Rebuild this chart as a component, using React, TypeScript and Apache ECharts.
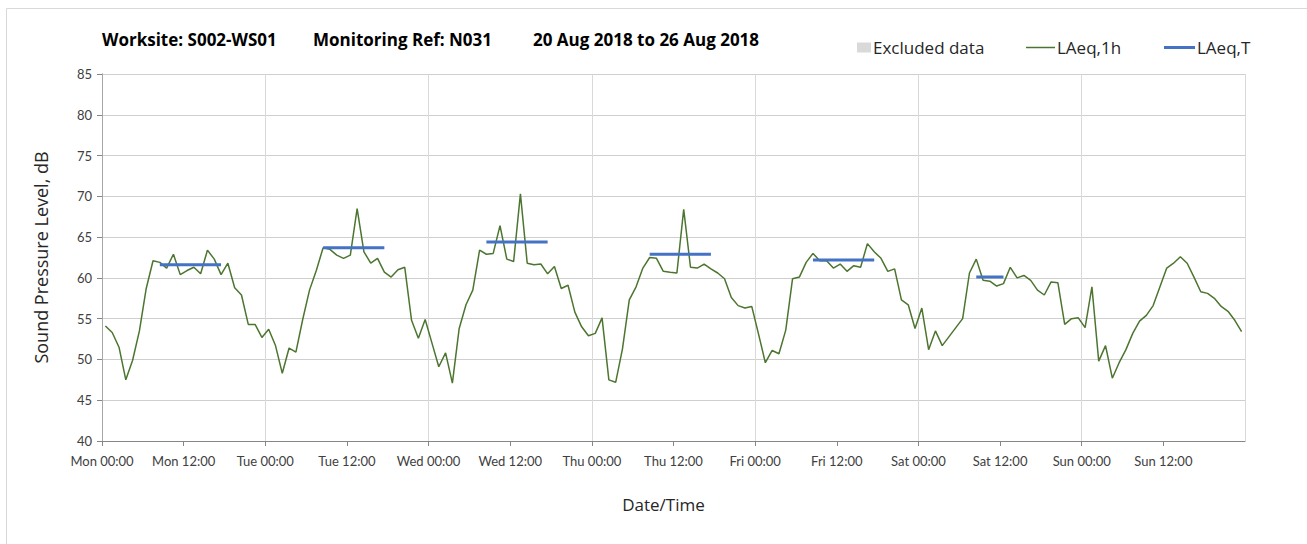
import React, { useEffect, useRef } from "react";
import * as echarts from "echarts";

// LAeq,1h hourly values, Mon 00:00 .. Sun 23:00 (168 hours)
const laeq1h: number[] = [
  // Mon
  54.1, 53.3, 51.5, 47.5, 49.9, 53.5, 58.7, 62.1, 61.9, 61.2, 62.9, 60.4,
  60.9, 61.3, 60.5, 63.4, 62.3, 60.4, 61.8, 58.8, 57.9, 54.3, 54.3, 52.7,
  // Tue
  53.7, 51.7, 48.3, 51.4, 50.9, 54.9, 58.5, 60.9, 63.7, 63.5, 62.8, 62.4,
  62.8, 68.5, 63.2, 61.8, 62.4, 60.7, 60.1, 61.0, 61.3, 54.8, 52.6, 54.9,
  // Wed
  52.0, 49.1, 50.8, 47.1, 53.8, 56.7, 58.5, 63.4, 62.9, 63.0, 66.4, 62.3,
  62.0, 70.3, 61.8, 61.6, 61.7, 60.5, 61.4, 58.7, 59.1, 55.8, 54.0, 52.9,
  // Thu
  53.2, 55.1, 47.5, 47.2, 51.3, 57.3, 58.9, 61.2, 62.5, 62.4, 60.8, 60.7,
  60.6, 68.4, 61.3, 61.2, 61.7, 61.1, 60.6, 59.9, 57.6, 56.6, 56.3, 56.5,
  // Fri
  53.1, 49.6, 51.1, 50.7, 53.6, 59.9, 60.1, 61.9, 63.0, 62.1, 62.1, 61.2,
  61.7, 60.8, 61.5, 61.3, 64.2, 63.2, 62.4, 60.8, 61.1, 57.3, 56.7, 53.8,
  // Sat
  56.3, 51.2, 53.5, 51.7, 52.8, 53.9, 55.0, 60.6, 62.3, 59.7, 59.6, 59.0,
  59.3, 61.3, 60.0, 60.3, 59.7, 58.5, 57.9, 59.5, 59.4, 54.3, 55.0, 55.1,
  // Sun
  53.9, 58.9, 49.8, 51.7, 47.7, 49.6, 51.2, 53.2, 54.7, 55.4, 56.6, 58.9,
  61.2, 61.8, 62.6, 61.8, 60.1, 58.3, 58.1, 57.5, 56.5, 55.9, 54.8, 53.4,
];

// LAeq,T working-period values
const periodStartHour: number[] = [8, 32, 56, 80, 104, 128];
const periodEndHour: number[] = [17, 41, 65, 89, 113, 132];
const laeqT: number[] = [61.6, 63.7, 64.4, 62.9, 62.2, 60.1];

const dayNames: string[] = ["Mon", "Tue", "Wed", "Thu", "Fri", "Sat", "Sun"];
const halfDayLabels: string[] = ["00:00", "12:00"];
const yTicks: number[] = [40, 45, 50, 55, 60, 65, 70, 75, 80, 85];

const FONT = "Lato, 'Open Sans', sans-serif";
const FONT2 = "'Open Sans', Lato, sans-serif";

export default function App() {
  const ref = useRef<HTMLDivElement>(null);

  useEffect(() => {
    if (!ref.current) return;
    const chart = echarts.init(ref.current, undefined, { renderer: "svg" });

    const greenData = laeq1h.map((v, i) => [i + 0.5, v]);
    const blueData: (number | null)[][] = [];
    laeqT.forEach((v, p) => {
      for (let h = periodStartHour[p]; h <= periodEndHour[p]; h++) {
        blueData.push([h + 0.5, v]);
      }
      blueData.push([periodEndHour[p] + 1, null]);
    });

    const legendText = { fontFamily: FONT2, fontSize: 17, color: "#262626", padding: [0, 0, 0, -3] };
    const titleStyle = { fontFamily: FONT2, fontSize: 17, fontWeight: "bold", fill: "#000000" };

    const option: any = {
      animation: false,
      backgroundColor: "#ffffff",
      textStyle: { fontFamily: FONT },
      grid: { left: 102, right: 62, top: 74, bottom: 103, containLabel: false },
      legend: [
        {
          left: 852,
          top: 34,
          icon: "rect",
          itemWidth: 14,
          itemHeight: 10,
          data: ["Excluded data"],
          textStyle: legendText,
        },
        {
          left: 1021,
          top: 34,
          icon: "rect",
          itemWidth: 29,
          itemHeight: 1.5,
          data: ["LAeq,1h"],
          textStyle: legendText,
        },
        {
          left: 1159,
          top: 34,
          icon: "rect",
          itemWidth: 31,
          itemHeight: 3,
          data: ["LAeq,T"],
          textStyle: legendText,
        },
      ],
      graphic: [
        {
          type: "rect",
          left: 4,
          top: 6,
          shape: { x: 0, y: 0, width: 1320, height: 560 },
          style: { fill: "none", stroke: "#d9d9d9", lineWidth: 1 },
          silent: true,
        },
        { type: "text", left: 102, top: 31, style: { ...titleStyle, text: "Worksite: S002-WS01" } },
        { type: "text", left: 313, top: 31, style: { ...titleStyle, text: "Monitoring Ref: N031" } },
        { type: "text", left: 533, top: 31, style: { ...titleStyle, text: "20 Aug 2018 to 26 Aug 2018" } },
      ],
      xAxis: [
        {
          type: "value",
          min: 0,
          max: 168,
          interval: 12,
          name: "Date/Time",
          nameLocation: "middle",
          nameGap: 55,
          nameTextStyle: { fontFamily: FONT2, fontSize: 17, color: "#262626", padding: [0, 20, 0, 0] },
          axisLine: { show: true, lineStyle: { color: "#868686", width: 1 } },
          axisTick: { show: true, inside: false, length: 5, lineStyle: { color: "#868686" } },
          axisLabel: {
            show: true,
            margin: 13,
            fontFamily: FONT,
            fontSize: 13,
            color: "#404040",
            showMaxLabel: false,
            formatter: (v: number) => dayNames[Math.floor(v / 24) % 7] + " " + halfDayLabels[(v % 24) / 12],
          },
          splitLine: { show: false },
        },
        {
          type: "value",
          min: 0,
          max: 168,
          interval: 24,
          position: "bottom",
          axisLine: { show: false },
          axisTick: { show: false },
          axisLabel: { show: false },
          splitLine: { show: true, lineStyle: { color: "#d9d9d9", width: 1 } },
        },
      ],
      yAxis: [
        {
          type: "value",
          min: yTicks[0],
          max: yTicks[yTicks.length - 1],
          interval: 5,
          name: "Sound Pressure Level, dB",
          nameLocation: "middle",
          nameGap: 52,
          nameTextStyle: { fontFamily: FONT2, fontSize: 18, color: "#262626" },
          axisLine: { show: true, lineStyle: { color: "#868686", width: 1 } },
          axisTick: { show: true, length: 5, lineStyle: { color: "#868686" } },
          axisLabel: { margin: 10, fontFamily: FONT, fontSize: 13, color: "#404040" },
          splitLine: { show: true, lineStyle: { color: "#cfcfcf", width: 1 } },
        },
        {
          type: "value",
          min: yTicks[0],
          max: yTicks[yTicks.length - 1],
          interval: 5,
          position: "right",
          axisLine: { show: true, lineStyle: { color: "#a6a6a6", width: 1 } },
          axisTick: { show: false },
          axisLabel: { show: false },
          splitLine: { show: false },
        },
      ],
      series: [
        {
          name: "Excluded data",
          type: "bar",
          data: [],
          itemStyle: { color: "#d9d9d9" },
        },
        {
          name: "LAeq,1h",
          type: "line",
          data: greenData,
          symbol: "none",
          lineStyle: { color: "#4c7530", width: 1.5 },
          itemStyle: { color: "#4c7530" },
          z: 3,
        },
        {
          name: "LAeq,T",
          type: "line",
          data: blueData,
          symbol: "none",
          connectNulls: false,
          lineStyle: { color: "#4472c4", width: 3 },
          itemStyle: { color: "#4472c4" },
          z: 4,
        },
      ],
    };

    chart.setOption(option);
    return () => chart.dispose();
  }, []);

  return (
    <div
      ref={ref}
      style={{ position: "fixed", left: 0, top: 0, width: 1307, height: 544, background: "#fff" }}
    />
  );
}
